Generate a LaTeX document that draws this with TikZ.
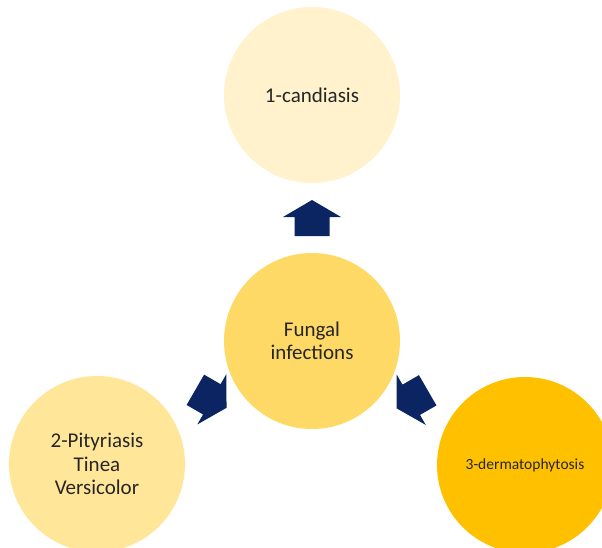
\documentclass[tikz,border=0pt]{standalone}
\usepackage{fontspec}
\setmainfont{Carlito}
\usetikzlibrary{calc}
\definecolor{ctop}{HTML}{FFF2CC}
\definecolor{cmid}{HTML}{FFD966}
\definecolor{cleft}{HTML}{FFE699}
\definecolor{cright}{HTML}{FFC000}
\definecolor{navy}{HTML}{0B2562}
\definecolor{txt}{HTML}{262626}
\tikzset{
  bubble/.style={circle, minimum size=176pt, inner sep=0pt, draw=none, text=txt, align=center, font=\fontsize{21}{23.5}\selectfont},
  pics/blockarrow/.style={code={
    \fill[navy] (18,0) -- (1,29) -- (1,17.5) -- (-18,17.5) -- (-18,-17.5) -- (1,-17.5) -- (1,-29) -- cycle;
  }}
}
\begin{document}
\begin{tikzpicture}[x=1pt,y=-1pt]
\useasboundingbox (0,0) rectangle (602,548);
\clip (0,0) rectangle (602,548);
\fill[white] (0,0) rectangle (602,548);
\node[bubble, fill=ctop] (top) at (312,95) {1-candiasis};
\node[bubble, fill=cmid] (mid) at (312,341) {Fungal\\infections};
\node[bubble, fill=cleft] (left) at (97,464) {2-Pityriasis\\Tinea\\Versicolor};
\node[bubble, fill=cright, font=\fontsize{15.5}{18}\selectfont] (right) at (525,465) {3-dermatophytosis};
\coordinate (a1) at ($(mid)!0.5!(top)$);
\coordinate (a2) at ($(mid)!0.47!(left)$);
\coordinate (a3) at ($(mid)!0.47!(right)$);
\pic[rotate=90] at (a1) {blockarrow};
\pic[rotate=-30] at (a2) {blockarrow};
\pic[rotate=210] at (a3) {blockarrow};
\end{tikzpicture}
\end{document}
